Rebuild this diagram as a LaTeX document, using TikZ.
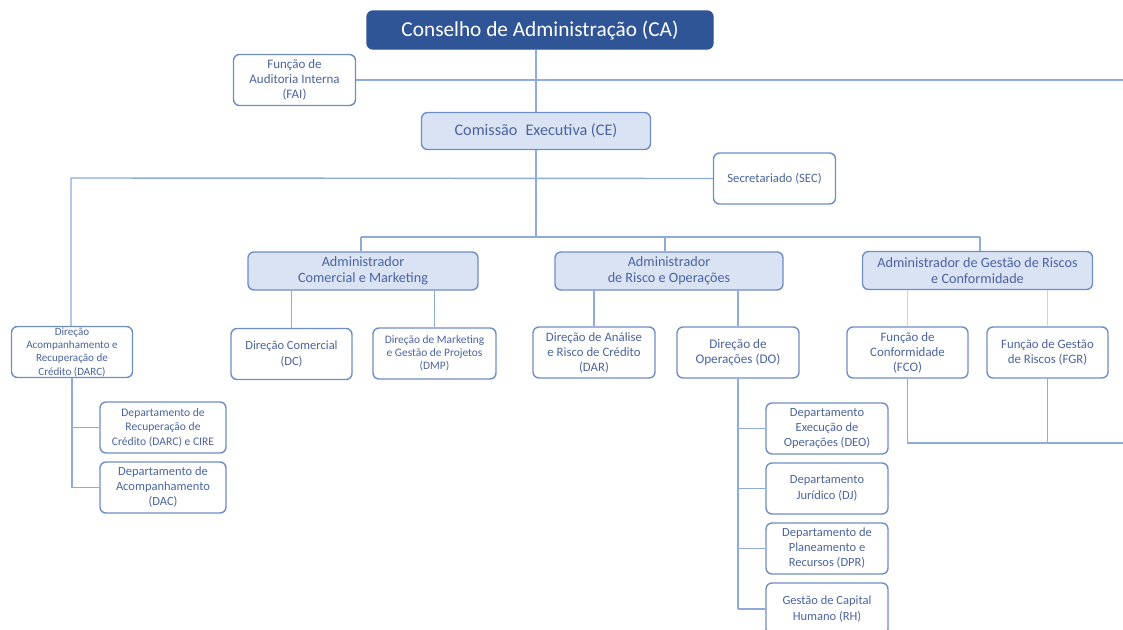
\documentclass[tikz,border=0pt]{standalone}
\usepackage{fontspec}
\setmainfont{Carlito}
\usetikzlibrary{backgrounds}
\definecolor{cadark}{HTML}{2F5597}
\definecolor{lightfill}{HTML}{DAE3F3}
\definecolor{boxline}{HTML}{6F8DC6}
\definecolor{conn}{HTML}{8FAADC}
\definecolor{connlight}{HTML}{C8D4EA}
\definecolor{txt}{HTML}{4B64A0}
\begin{document}
\begin{tikzpicture}[x=1pt,y=-1pt,
  box/.style={draw=boxline, line width=1.4pt, rounded corners=6pt, fill=white,
    text=txt, align=center, inner sep=0pt, minimum width=122pt, minimum height=51pt},
  lbox/.style={box, fill=lightfill, minimum height=38pt},
  cabox/.style={box, fill=cadark, draw=cadark, text=white, minimum height=38pt},
  cline/.style={draw=conn, line width=1.4pt},
  clight/.style={draw=connlight, line width=1.2pt},
  fs/.style 2 args={font=\fontsize{#1}{#2}\selectfont}]
\useasboundingbox (0,0) rectangle (1123,629);
\clip (0,0) rectangle (1123,629);

% nodes
\node[cabox, minimum width=346pt, fs={21.3}{25}] (CA) at (540,30) {Conselho de Administração (CA)};
\node[box, fs={13}{15}] (FAI) at (294.5,80) {Função de\\Auditoria Interna\\(FAI)};
\node[lbox, minimum width=229pt, minimum height=37pt, fs={16.2}{19}] (CE) at (536,131) {Comissão\; Executiva (CE)};
\node[box, fs={12.7}{15}] (SEC) at (774.5,178.5) {Secretariado (SEC)};

\node[lbox, minimum width=230pt, fs={14.2}{16.5}] (ACM) at (363,271) {Administrador\\Comercial e Marketing};
\node[lbox, minimum width=228pt, fs={14.2}{16.5}] (ARO) at (669,271) {Administrador\\de Risco e Operações};
\node[lbox, minimum width=230pt, fs={14.2}{16.5}] (AGR) at (977.5,270.5) {Administrador de Gestão de Riscos\\e Conformidade};

\node[box, minimum width=121pt, fs={11.1}{13.3}] (DARC) at (72,352) {Direção\\Acompanhamento e\\Recuperação de\\Crédito (DARC)};
\node[box, minimum width=121pt, fs={12.5}{16.5}] (DC) at (291.5,354) {Direção Comercial\\(DC)};
\node[box, minimum width=123pt, fs={11.4}{13.3}] (DMP) at (434.5,353.5) {Direção de Marketing\\e Gestão de Projetos\\(DMP)};
\node[box, fs={12.8}{15}] (DAR) at (594,352.5) {Direção de Análise\\e Risco de Crédito\\(DAR)};
\node[box, fs={13.2}{15}] (DO) at (738,352.5) {Direção de\\Operações (DO)};
\node[box, minimum width=121pt, fs={12.9}{15}] (FCO) at (907.5,352.5) {Função de\\Conformidade\\(FCO)};
\node[box, minimum width=121pt, fs={12.8}{15.5}] (FGR) at (1047.5,352.5) {Função de Gestão\\de Riscos (FGR)};

\node[box, minimum width=126pt, fs={11.6}{14.5}] (DRC) at (163,427.5) {Departamento de\\Recuperação de\\Crédito (DARC) e CIRE};
\node[box, minimum width=126pt, fs={12.5}{15}] (DAC) at (163,487.5) {Departamento de\\Acompanhamento\\(DAC)};

\node[box, fs={12.5}{15}] (DEO) at (827,428.5) {Departamento\\Execução de\\Operações (DEO)};
\node[box, fs={12.5}{15.5}] (DJ) at (827,488.5) {Departamento\\Jurídico (DJ)};
\node[box, fs={12.5}{15}] (DPR) at (827,548.5) {Departamento de\\Planeamento e\\Recursos (DPR)};
\node[box, minimum height=52pt, fs={12.5}{15.5}] (RH) at (827,609) {Gestão de Capital\\Humano (RH)};

% coordinates for free ends / buses
\coordinate (FAIend) at (1123,80);
\coordinate (busL) at (361,237);
\coordinate (busR) at (980,237);
\coordinate (busRO) at (665,237);
\coordinate (leftTop) at (71,178);
\coordinate (FRend) at (1123,443);

% connectors
\begin{scope}[on background layer]
\draw[cline] (CA.south -| CE.north) -- (CE.north);
\draw[cline] (FAI.east) -- (FAIend);
\draw[cline] (CE.south) -- (CE.south |- busL);
\draw[cline] (busL) -- (busR);
\draw[cline] (busL) -- (busL |- ACM.north);
\draw[cline] (busRO) -- (busRO |- ARO.north);
\draw[cline] (busR) -- (busR |- AGR.north);
\draw[cline] (SEC.west) -- (leftTop) -- (leftTop |- DARC.north);

\draw[cline] (DC.north |- ACM.south) -- (DC.north);
\draw[cline] (DMP.north |- ACM.south) -- (DMP.north);
\draw[cline] (DAR.north |- ARO.south) -- (DAR.north);
\draw[cline] (DO.north |- ARO.south) -- (DO.north);
\draw[clight] (FCO.north |- AGR.south) -- (FCO.north);
\draw[clight] (FGR.north |- AGR.south) -- (FGR.north);

\draw[cline] (DARC.south) -- (DARC.south |- DAC.west);
\draw[cline] (DARC.south |- DRC.west) -- (DRC.west);
\draw[cline] (DARC.south |- DAC.west) -- (DAC.west);

\draw[cline] (DO.south) -- (DO.south |- RH.west);
\draw[cline] (DO.south |- DEO.west) -- (DEO.west);
\draw[cline] (DO.south |- DJ.west) -- (DJ.west);
\draw[cline] (DO.south |- DPR.west) -- (DPR.west);
\draw[cline] (DO.south |- RH.west) -- (RH.west);

\draw[cline] (FCO.south) -- (FCO.south |- FRend) -- (FRend);
\draw[cline] (FGR.south) -- (FGR.south |- FRend);
\end{scope}
\end{tikzpicture}
\end{document}
